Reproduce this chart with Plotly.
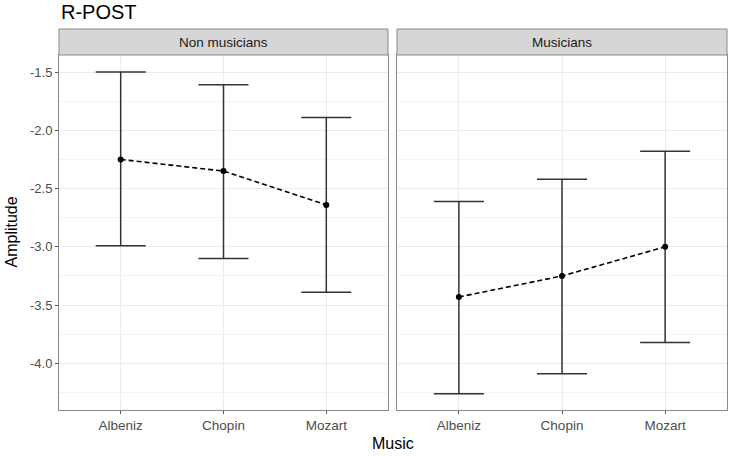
import plotly.graph_objects as go

# data
music = ["Albeniz", "Chopin", "Mozart"]
groups = ["Non musicians", "Musicians"]

mean_non = [-2.25, -2.35, -2.64]
upper_non = [-1.50, -1.61, -1.89]
lower_non = [-2.99, -3.10, -3.39]

mean_mus = [-3.43, -3.25, -3.00]
upper_mus = [-2.61, -2.42, -2.18]
lower_mus = [-4.26, -4.09, -3.82]

y_ticks = [-4.0, -3.5, -3.0, -2.5, -2.0, -1.5]

FONT = "Liberation Sans, Arial, sans-serif"
BORDER = "#8a8a8a"
GRID = "#ebebeb"
STRIP_FILL = "#d6d6d6"

fig = go.Figure()

series = [(mean_non, upper_non, lower_non, "x", "y"),
          (mean_mus, upper_mus, lower_mus, "x2", "y2")]

for mean, up, lo, xa, ya in series:
    fig.add_trace(go.Scatter(
        x=music, y=mean, xaxis=xa, yaxis=ya,
        mode="lines+markers",
        line=dict(color="black", width=1.6, dash="5px,3px"),
        marker=dict(color="black", size=6),
        error_y=dict(
            type="data", symmetric=False,
            array=[u - m for u, m in zip(up, mean)],
            arrayminus=[m - l for m, l in zip(mean, lo)],
            color="#333333", thickness=1.5, width=25,
        ),
        showlegend=False, hoverinfo="skip",
    ))

axis_common = dict(
    showline=True, linecolor=BORDER, linewidth=1, mirror=True,
    tickcolor="#555555", ticklen=3, automargin=False,
    tickfont=dict(family=FONT, size=13, color="#4d4d4d"),
    showgrid=True, gridcolor=GRID, gridwidth=1, zeroline=False,
)
minor_grid = dict(dtick=0.25, tick0=-1.5, showgrid=True, gridcolor="#f4f4f4", gridwidth=0.6, ticks="")

yr = [-4.40, -1.354]
PW, PH = 668, 355  # plot area in px
fig.update_layout(
    width=730, height=456,
    margin=dict(l=59, r=3, t=55, b=46),
    paper_bgcolor="white", plot_bgcolor="white",
    font=dict(family=FONT),
    xaxis=dict(domain=[0, 0.4925], type="category", range=[-0.6, 2.6], ticks="outside", **axis_common),
    xaxis2=dict(domain=[0.506, 1], type="category", range=[-0.6, 2.6], ticks="outside", **axis_common),
    yaxis=dict(range=yr, tickvals=y_ticks, ticktext=[f"{v:.1f}" for v in y_ticks],
               ticks="outside", minor=minor_grid, **axis_common),
    yaxis2=dict(range=yr, anchor="x2", tickvals=y_ticks, showticklabels=False, ticks="",
                minor=minor_grid, **axis_common),
)
fig.update_xaxes(tickfont=dict(size=13.5))

# facet strips
strip_top = 1 + 26 / PH
for x0, x1, label in [(0, 0.4925, groups[0]), (0.506, 1, groups[1])]:
    fig.add_shape(type="rect", xref="paper", yref="paper", x0=x0, x1=x1, y0=1, y1=strip_top,
                  fillcolor=STRIP_FILL, line=dict(color=BORDER, width=1))
    fig.add_annotation(x=(x0 + x1) / 2, y=(1 + strip_top) / 2, xref="paper", yref="paper",
                       text=label, showarrow=False, xanchor="center", yanchor="middle",
                       font=dict(family=FONT, size=13.5, color="#1a1a1a"))

# title and axis titles
fig.add_annotation(x=0, y=1 + 43 / PH, xref="paper", yref="paper", text="R-POST", showarrow=False,
                   xanchor="left", yanchor="middle", font=dict(family=FONT, size=20, color="black"))
fig.add_annotation(x=0.5, y=-33 / PH, xref="paper", yref="paper", text="Music", showarrow=False,
                   xanchor="center", yanchor="middle", font=dict(family=FONT, size=16, color="black"))
fig.add_annotation(x=-48 / PW, y=0.5, xref="paper", yref="paper", text="Amplitude", showarrow=False,
                   textangle=-90, xanchor="center", yanchor="middle",
                   font=dict(family=FONT, size=16, color="black"))

# drop the default page margin so the figure sits at the window's corner
fig.write_html("out.html", config={"displayModeBar": False},
               post_script="document.body.style.margin='0';")
